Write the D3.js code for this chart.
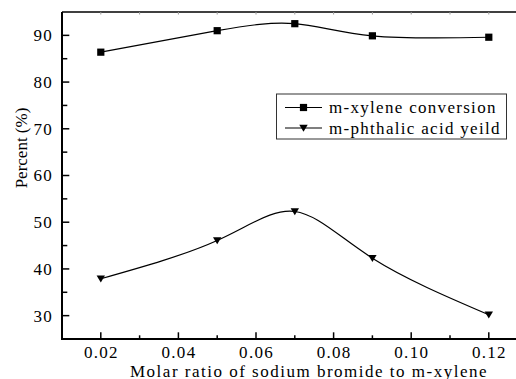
<!DOCTYPE html>
<meta charset="utf-8">
<style>
  body { margin: 0; background: #fff; }
  svg text { font-family: "Times New Roman", "Liberation Serif", Times, serif; fill: #000; }
  .tick-label { font-size: 17px; letter-spacing: 1.3px; }
  .curve { fill: none; stroke: #000; stroke-width: 1.2px; }
</style>
<svg width="516" height="379"></svg>
<script src="https://d3js.org/d3.v7.min.js"></script>
<script>

    // data
    var ratios = [0.02, 0.05, 0.07, 0.09, 0.12];
    var conversion = [86.4, 91.0, 92.5, 89.9, 89.6];
    var yieldVals = [37.9, 46.1, 52.3, 42.3, 30.2];
    var xTicks = [0.02, 0.04, 0.06, 0.08, 0.10, 0.12];
    var yTicks = [30, 40, 50, 60, 70, 80, 90];
    var seriesNames = ["m-xylene conversion", "m-phthalic acid yeild"];

    var svg = d3.select("svg");
    var plotLeft = 62, plotTop = 12, plotBottom = 339, plotRight = 527.6;

    var x = d3.scaleLinear().domain([0.01, 0.13]).range([plotLeft, plotRight]);
    var y = d3.scaleLinear().domain([25, 95]).range([plotBottom, plotTop]);

    // top frame line with small ticks
    svg.append("line")
        .attr("x1", plotLeft).attr("x2", 516).attr("y1", plotTop).attr("y2", plotTop)
        .attr("stroke", "#000").attr("stroke-width", 1.3);
    svg.selectAll(".ttick")
        .data(d3.range(0.02, 0.125, 0.01))
        .enter().append("line")
        .attr("x1", function(d) { return x(d); }).attr("x2", function(d) { return x(d); })
        .attr("y1", plotTop).attr("y2", plotTop + 2.5)
        .attr("stroke", "#999").attr("stroke-width", 1);

    // bottom axis
    svg.selectAll(".xminor")
        .data(d3.range(0.03, 0.125, 0.02))
        .enter().append("line")
        .attr("x1", function(d) { return x(d); }).attr("x2", function(d) { return x(d); })
        .attr("y1", plotBottom).attr("y2", plotBottom - 3.7)
        .attr("stroke", "#000").attr("stroke-width", 1.5);
    svg.selectAll(".xmajor")
        .data(xTicks)
        .enter().append("line")
        .attr("x1", function(d) { return x(d); }).attr("x2", function(d) { return x(d); })
        .attr("y1", plotBottom).attr("y2", plotBottom - 6.7)
        .attr("stroke", "#000").attr("stroke-width", 1.5);
    svg.selectAll(".xlab")
        .data(xTicks)
        .enter().append("text")
        .attr("class", "tick-label")
        .attr("x", function(d) { return x(d) + 0.6; })
        .attr("y", 358)
        .attr("text-anchor", "middle")
        .text(function(d) { return d.toFixed(2); });
    svg.append("line")
        .attr("x1", plotLeft - 1).attr("x2", 516).attr("y1", plotBottom).attr("y2", plotBottom)
        .attr("stroke", "#000").attr("stroke-width", 2);

    // left axis
    svg.selectAll(".yminor")
        .data(d3.range(35, 95, 10))
        .enter().append("line")
        .attr("x1", plotLeft).attr("x2", plotLeft + 5.3)
        .attr("y1", function(d) { return y(d); }).attr("y2", function(d) { return y(d); })
        .attr("stroke", "#000").attr("stroke-width", 1.5);
    svg.selectAll(".ymajor")
        .data(yTicks)
        .enter().append("line")
        .attr("x1", plotLeft).attr("x2", plotLeft + 7.3)
        .attr("y1", function(d) { return y(d); }).attr("y2", function(d) { return y(d); })
        .attr("stroke", "#000").attr("stroke-width", 1.5);
    svg.selectAll(".ylab")
        .data(yTicks)
        .enter().append("text")
        .attr("class", "tick-label")
        .attr("x", 53)
        .attr("y", function(d) { return y(d); })
        .attr("dy", "0.35em")
        .attr("text-anchor", "end")
        .text(function(d) { return d; });
    svg.append("line")
        .attr("x1", plotLeft).attr("x2", plotLeft).attr("y1", plotTop).attr("y2", plotBottom + 1)
        .attr("stroke", "#000").attr("stroke-width", 2);

    // axis titles
    svg.append("text")
        .attr("x", 309).attr("y", 376.5)
        .attr("text-anchor", "middle")
        .style("font-size", "17px").style("letter-spacing", "1.5px")
        .text("Molar ratio of sodium bromide to m-xylene");
    svg.append("text")
        .attr("transform", "translate(27,148) rotate(-90)")
        .attr("text-anchor", "middle")
        .style("font-size", "17px")
        .text("Percent (%)");

    // curves
    var line = d3.line()
        .x(function(d) { return x(d[0]); })
        .y(function(d) { return y(d[1]); })
        .curve(d3.curveNatural);

    var convPts = d3.zip(ratios, conversion);
    var yieldPts = d3.zip(ratios, yieldVals);

    svg.append("path").attr("class", "curve").attr("d", line(convPts));
    svg.append("path").attr("class", "curve").attr("d", line(yieldPts));

    var square = d3.symbol().type(d3.symbolSquare).size(52);
    var tri = "M-4.2,-3.3L4.2,-3.3L0,3.8Z";

    svg.selectAll(".sq")
        .data(convPts)
        .enter().append("path")
        .attr("d", square)
        .attr("transform", function(d) { return "translate(" + x(d[0]) + "," + y(d[1]) + ")"; });
    svg.selectAll(".tri")
        .data(yieldPts)
        .enter().append("path")
        .attr("d", tri)
        .attr("transform", function(d) { return "translate(" + x(d[0]) + "," + y(d[1]) + ")"; });

    // legend
    var lg = svg.append("g");
    lg.append("rect")
        .attr("x", 276.5).attr("y", 94).attr("width", 230).attr("height", 45)
        .attr("fill", "#fff").attr("stroke", "#333").attr("stroke-width", 1);
    var rows = lg.selectAll(".row")
        .data(seriesNames)
        .enter().append("g")
        .attr("transform", function(d, i) { return "translate(0," + (107.5 + i * 20.5) + ")"; });
    rows.append("line")
        .attr("x1", 285).attr("x2", 322).attr("y1", 0).attr("y2", 0)
        .attr("stroke", "#000").attr("stroke-width", 1.2);
    rows.append("path")
        .attr("d", function(d, i) { return i === 0 ? square() : tri; })
        .attr("transform", "translate(303.5,0)");
    rows.append("text")
        .attr("x", 329).attr("y", 0).attr("dy", "0.33em")
        .style("font-size", "17px").style("letter-spacing", "1.3px")
        .text(function(d) { return d; });

</script>
